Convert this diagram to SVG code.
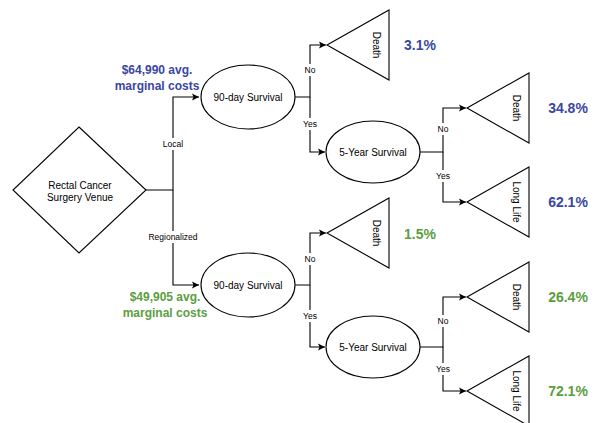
<svg xmlns="http://www.w3.org/2000/svg" width="597" height="423" viewBox="0 0 597 423">
<style>
.shape{fill:#fff;stroke:#000;stroke-width:1.1}
.edge{fill:none;stroke:#000;stroke-width:1.1}
.t{font-family:Helvetica,"Liberation Sans",Arial,sans-serif;font-size:10px;fill:#000;text-anchor:middle;dominant-baseline:central}
.lbl{font-family:Helvetica,"Liberation Sans",Arial,sans-serif;font-size:8.5px;fill:#000;text-anchor:middle;dominant-baseline:central}
.rot{font-family:Helvetica,"Liberation Sans",Arial,sans-serif;font-size:10px;fill:#000;text-anchor:middle;dominant-baseline:central}
.big{font-family:Helvetica,"Liberation Sans",Arial,sans-serif;font-size:14px;font-weight:bold;text-anchor:middle;dominant-baseline:central}
.cost{font-family:Helvetica,"Liberation Sans",Arial,sans-serif;font-size:12px;font-weight:bold;text-anchor:middle;dominant-baseline:central}
.blue{fill:#3a46a3}.green{fill:#5b9e3f}
</style>
<defs>
<marker id="arr" markerWidth="8" markerHeight="8" refX="7" refY="4" orient="auto" markerUnits="userSpaceOnUse">
<path d="M0,0.5 L7,4 L0,7.5 L1.5,4 Z" fill="#000"/>
</marker>
</defs>
<rect width="597" height="423" fill="#fff"/>
<g id="connectors">
<path class="edge" d="M146,190 H173 V97 H199" marker-end="url(#arr)"/>
<path class="edge" d="M173,190 V285 H199" marker-end="url(#arr)"/>
<path class="edge" d="M295,97 H310 V45 H326" marker-end="url(#arr)"/>
<path class="edge" d="M310,97 V152 H325" marker-end="url(#arr)"/>
<path class="edge" d="M420,152 H443 V108 H466" marker-end="url(#arr)"/>
<path class="edge" d="M443,152 V202 H466" marker-end="url(#arr)"/>
<path class="edge" d="M295,285 H310 V233 H326" marker-end="url(#arr)"/>
<path class="edge" d="M310,285 V347 H325" marker-end="url(#arr)"/>
<path class="edge" d="M420,347 H443 V297 H466" marker-end="url(#arr)"/>
<path class="edge" d="M443,347 V391 H466" marker-end="url(#arr)"/>
<g>
<rect x="161" y="138" width="24" height="12" fill="#fff"/><text class="lbl" x="173" y="144">Local</text>
<rect x="146" y="231" width="54" height="12" fill="#fff"/><text class="lbl" x="173" y="237">Regionalized</text>
<rect x="302" y="64" width="16" height="12" fill="#fff"/><text class="lbl" x="310" y="70">No</text>
<rect x="300" y="118" width="20" height="12" fill="#fff"/><text class="lbl" x="310" y="124">Yes</text>
<rect x="435" y="123" width="16" height="12" fill="#fff"/><text class="lbl" x="443" y="129">No</text>
<rect x="433" y="170" width="20" height="12" fill="#fff"/><text class="lbl" x="443" y="176">Yes</text>
<rect x="302" y="253" width="16" height="12" fill="#fff"/><text class="lbl" x="310" y="259">No</text>
<rect x="300" y="310" width="20" height="12" fill="#fff"/><text class="lbl" x="310" y="316">Yes</text>
<rect x="435" y="315" width="16" height="12" fill="#fff"/><text class="lbl" x="443" y="321">No</text>
<rect x="433" y="363" width="20" height="12" fill="#fff"/><text class="lbl" x="443" y="369">Yes</text>
</g>
</g>
<g id="venue">
<polygon class="shape" points="79,127 146,190 79,253 13,190"/>
<text class="t" x="80" y="185">Rectal Cancer</text>
<text class="t" x="80" y="197">Surgery Venue</text>
</g>
<g id="local90">
<ellipse class="shape" cx="248" cy="97" rx="47" ry="32"/>
<text class="t" x="248" y="97">90-day Survival</text>
</g>
<g id="reg90">
<ellipse class="shape" cx="248" cy="285" rx="47" ry="32"/>
<text class="t" x="248" y="285">90-day Survival</text>
</g>
<g id="local5y">
<ellipse class="shape" cx="373" cy="152" rx="47" ry="31"/>
<text class="t" x="373" y="152">5-Year Survival</text>
</g>
<g id="reg5y">
<ellipse class="shape" cx="373" cy="347" rx="47" ry="31"/>
<text class="t" x="373" y="347">5-Year Survival</text>
</g>
<g id="death1">
<polygon class="shape" points="327,45 389,10 389,80"/>
<text class="rot" transform="translate(376,45) rotate(90)">Death</text>
</g>
<g id="death2">
<polygon class="shape" points="467,108 529,73 529,143"/>
<text class="rot" transform="translate(516,108) rotate(90)">Death</text>
</g>
<g id="life2">
<polygon class="shape" points="467,202 529,167 529,237"/>
<text class="rot" transform="translate(516,202) rotate(90)">Long Life</text>
</g>
<g id="death3">
<polygon class="shape" points="327,233 389,198 389,268"/>
<text class="rot" transform="translate(376,233) rotate(90)">Death</text>
</g>
<g id="death4">
<polygon class="shape" points="467,297 529,262 529,332"/>
<text class="rot" transform="translate(516,297) rotate(90)">Death</text>
</g>
<g id="life4">
<polygon class="shape" points="467,391 529,356 529,426"/>
<text class="rot" transform="translate(516,391) rotate(90)">Long Life</text>
</g>
<g id="costs">
<text class="cost blue" x="157" y="70">$64,990 avg.</text>
<text class="cost blue" x="157" y="86">marginal costs</text>
<text class="cost green" x="165" y="297">$49,905 avg.</text>
<text class="cost green" x="165" y="313">marginal costs</text>
</g>
<g id="probs">
<text class="big blue" x="420" y="45">3.1%</text>
<text class="big blue" x="568" y="108">34.8%</text>
<text class="big blue" x="568" y="202">62.1%</text>
<text class="big green" x="420" y="234">1.5%</text>
<text class="big green" x="568" y="297">26.4%</text>
<text class="big green" x="568" y="391">72.1%</text>
</g>
</svg>
